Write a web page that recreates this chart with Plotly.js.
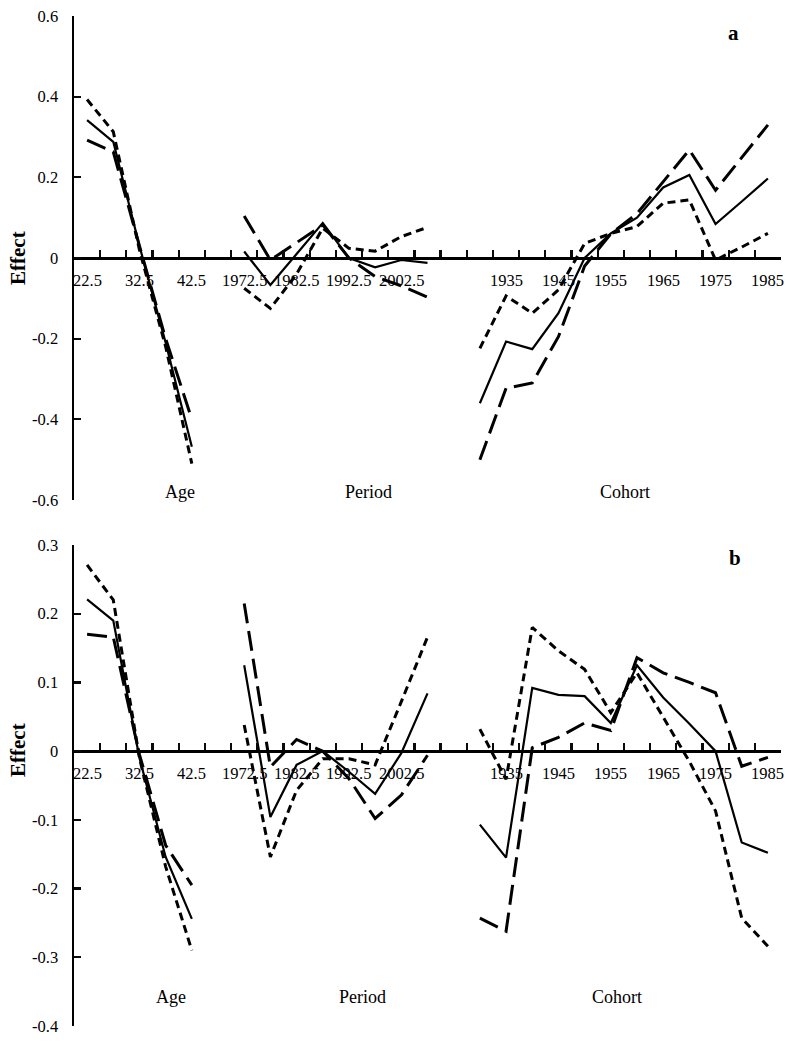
<!DOCTYPE html>
<html>
<head>
<meta charset="utf-8">
<script src="https://cdn.plot.ly/plotly-3.0.1.min.js"></script>
<style>html,body{margin:0;padding:0;background:#fff}</style>
</head>
<body>
<div id="chart" style="width:800px;height:1048px"></div>
<script>
// ---------- categories ----------
const ageCats = ["22.5","27.5","32.5","37.5","42.5"];
const periodCats = ["1972.5","1977.5","1982.5","1987.5","1992.5","1997.5","2002.5","2007.5"];
const cohortCats = ["1930","1935","1940","1945","1950","1955","1960","1965","1970","1975","1980","1985"];
const categories = [...ageCats, "gap1", ...periodCats, "gap2", ...cohortCats];
const tickLabels = ["22.5","32.5","42.5","1972.5","1982.5","1992.5","2002.5","1935","1945","1955","1965","1975","1985"];
const groupLabels = ["Age","Period","Cohort"];
const yTicksA = [-0.6,-0.4,-0.2,0,0.2,0.4,0.6];
const yTickTextA = ["-0.6","-0.4","-0.2","0","0.2","0.4","0.6"];
const yTicksB = [-0.4,-0.3,-0.2,-0.1,0,0.1,0.2,0.3];
const yTickTextB = ["-0.4","-0.3","-0.2","-0.1","0","0.1","0.2","0.3"];

// ---------- panel a ----------
const aAgeSolid  = [0.342, 0.288, 0.03, -0.21, -0.468];
const aAgeLong   = [0.292, 0.263, 0.03, -0.20, -0.40];
const aAgeShort  = [0.393, 0.313, 0.02, -0.22, -0.51];
const aPerSolid  = [0.016, -0.067, 0.01, 0.087, 0.0, -0.023, -0.005, -0.012];
const aPerLong   = [0.104, -0.005, 0.038, 0.082, 0.0, -0.046, -0.069, -0.097];
const aPerShort  = [-0.075, -0.125, -0.04, 0.074, 0.024, 0.017, 0.053, 0.076];
const aCohSolid  = [-0.36, -0.207, -0.226, -0.137, 0.0, 0.061, 0.10, 0.175, 0.206, 0.084, 0.14, 0.197];
const aCohLong   = [-0.50, -0.323, -0.31, -0.195, -0.02, 0.06, 0.11, 0.19, 0.268, 0.168, 0.25, 0.33];
const aCohShort  = [-0.224, -0.094, -0.137, -0.079, 0.036, 0.061, 0.078, 0.136, 0.144, -0.005, 0.027, 0.061];

// ---------- panel b ----------
const bAgeSolid  = [0.221, 0.19, -0.01, -0.154, -0.244];
const bAgeLong   = [0.17, 0.166, -0.005, -0.137, -0.195];
const bAgeShort  = [0.271, 0.22, -0.01, -0.168, -0.29];
const bPerSolid  = [0.125, -0.096, -0.02, 0.0, -0.03, -0.062, -0.003, 0.084];
const bPerLong   = [0.215, -0.023, 0.017, 0.0, -0.04, -0.098, -0.064, -0.006];
const bPerShort  = [0.038, -0.154, -0.057, -0.011, -0.011, -0.02, 0.072, 0.166];
const bCohSolid  = [-0.107, -0.155, 0.092, 0.082, 0.08, 0.041, 0.125, 0.078, 0.04, 0.0, -0.133, -0.148];
const bCohLong   = [-0.243, -0.262, 0.005, 0.02, 0.041, 0.03, 0.136, 0.114, 0.10, 0.085, -0.022, -0.009];
const bCohShort  = [0.032, -0.041, 0.18, 0.146, 0.119, 0.056, 0.114, 0.049, -0.015, -0.087, -0.243, -0.284];

// ---------- layout geometry ----------
const W = 800, H = 1048;
const M = {l: 74, r: 19, t: 16, b: 22};
const plotW = W - M.l - M.r, plotH = H - M.t - M.b;
const px2x = p => (p - M.l) / plotW;
const py2y = p => (H - M.b - p) / plotH;
const domA = [py2y(500), 1];
const domB = [0, py2y(545)];
const rangeA = [-0.6, 0.6], rangeB = [-0.4, 0.3];
const zeroPos = (dom, r) => dom[0] + (0 - r[0]) / (r[1] - r[0]) * (dom[1] - dom[0]);

const styles = {
  solid: {color: '#000', width: 2.2, dash: 'solid'},
  long:  {color: '#000', width: 3, dash: '20px,8px'},
  short: {color: '#000', width: 3, dash: '8px,5px'}
};
const idx = c => categories.indexOf(c);

const traces = [];
function addGroup(cats, vals, style, ax) {
  traces.push({
    type: 'scatter', mode: 'lines',
    x: cats.map(idx), y: vals,
    xaxis: ax.x, yaxis: ax.y,
    line: styles[style], hoverinfo: 'skip', showlegend: false
  });
}
const axA = {x: 'x', y: 'y'}, axB = {x: 'x2', y: 'y2'};
[[ageCats, aAgeSolid, aAgeLong, aAgeShort],
 [periodCats, aPerSolid, aPerLong, aPerShort],
 [cohortCats, aCohSolid, aCohLong, aCohShort]].forEach(g => {
  addGroup(g[0], g[1], 'solid', axA);
  addGroup(g[0], g[2], 'long', axA);
  addGroup(g[0], g[3], 'short', axA);
});
[[ageCats, bAgeSolid, bAgeLong, bAgeShort],
 [periodCats, bPerSolid, bPerLong, bPerShort],
 [cohortCats, bCohSolid, bCohLong, bCohShort]].forEach(g => {
  addGroup(g[0], g[1], 'solid', axB);
  addGroup(g[0], g[2], 'long', axB);
  addGroup(g[0], g[3], 'short', axB);
});

const serif = '"Liberation Serif", "Times New Roman", serif';
const tickCol = '#0a0a0a';
const xRange = [-0.5, categories.length - 0.5];
const boundaries = categories.map((c, i) => i + 0.5);
// x axis at y = 0 with tick marks between categories
function xAxis(pos) {
  return {
    domain: [0, 1], anchor: 'free', position: pos, range: xRange,
    tickmode: 'array', tickvals: boundaries, ticktext: boundaries.map(() => ''),
    ticks: 'inside', ticklen: 7, tickwidth: 2.2, tickcolor: tickCol,
    showticklabels: false,
    showline: true, linecolor: '#000', linewidth: 2.5,
    showgrid: false, zeroline: false
  };
}
function yAxis(dom, r, tv, tt, anchorX) {
  return {
    domain: dom, range: r, anchor: anchorX,
    tickmode: 'array', tickvals: tv, ticktext: tt,
    ticks: 'inside', ticklen: 7, tickwidth: 2.2, tickcolor: tickCol,
    ticklabelstandoff: 10,
    showline: true, linecolor: '#000', linewidth: 2.5,
    showgrid: false, zeroline: false,
    tickfont: {family: serif, size: 16.5, color: '#000'}
  };
}

const ann = [];
// category tick labels, placed by the axis scale just below y = 0
function catLabels(xr, yr) {
  tickLabels.forEach(t => ann.push({
    xref: xr, yref: yr, x: idx(t), y: 0, yshift: -22,
    xanchor: 'center', yanchor: 'middle', showarrow: false, text: t,
    font: {family: serif, size: 16.5, color: '#000'}
  }));
}
catLabels('x', 'y');
catLabels('x2', 'y2');
function label(text, px, py, size, bold, angle) {
  ann.push({
    xref: 'paper', yref: 'paper', x: px2x(px), y: py2y(py),
    xanchor: 'center', yanchor: 'middle', showarrow: false,
    text: bold ? '<b>' + text + '</b>' : text, textangle: angle || 0,
    font: {family: serif, size: size, color: '#000'}
  });
}
label('Effect', 18, 258, 21, true, -90);
label('Effect', 18, 750, 21, true, -90);
label('a', 733, 33, 21, true);
label('b', 735, 558, 21, true);
const gxA = [180, 368, 625], gxB = [171, 362, 617];
groupLabels.forEach((g, i) => { label(g, gxA[i], 492, 18); label(g, gxB[i], 997, 18); });

const layout = {
  width: W, height: H, margin: M,
  paper_bgcolor: '#fff', plot_bgcolor: '#fff',
  showlegend: false,
  xaxis: xAxis(zeroPos(domA, rangeA)),
  yaxis: yAxis(domA, rangeA, yTicksA, yTickTextA, 'x'),
  xaxis2: xAxis(zeroPos(domB, rangeB)),
  yaxis2: yAxis(domB, rangeB, yTicksB, yTickTextB, 'x2'),
  annotations: ann
};
Plotly.newPlot('chart', traces, layout, {staticPlot: true});
</script>
</body>
</html>
